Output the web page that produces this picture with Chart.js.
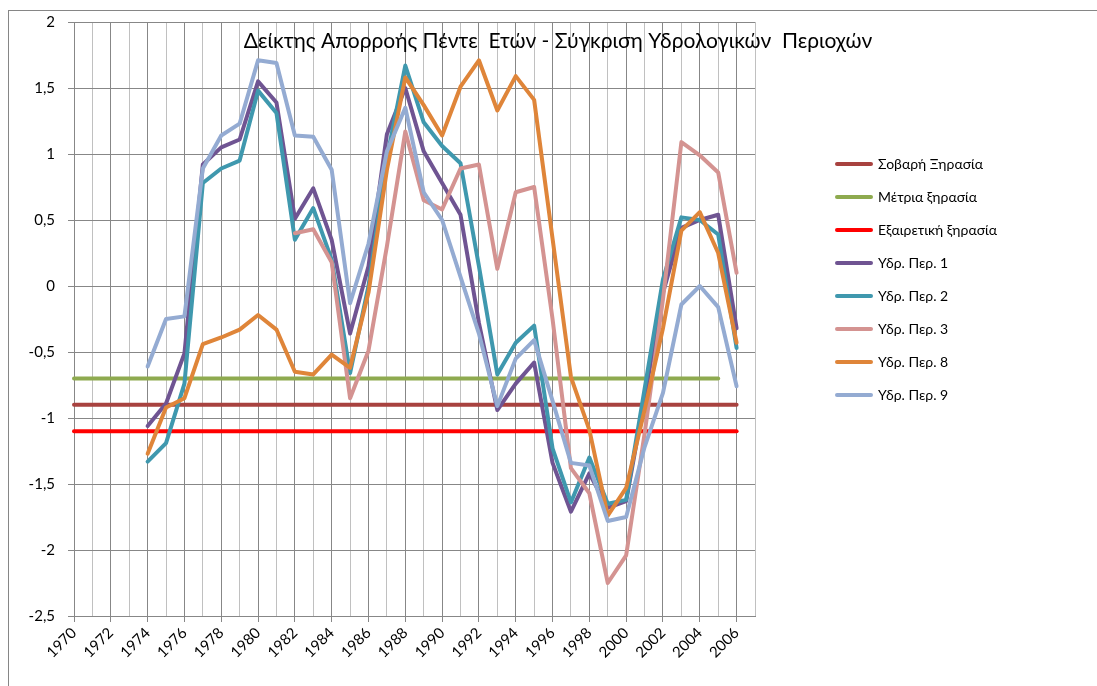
<!DOCTYPE html>
<html>
<head>
<meta charset="utf-8">
<title>Δείκτης Απορροής Πέντε Ετών</title>
<script src="https://cdn.jsdelivr.net/npm/chart.js"></script>
<style>
  html, body { margin: 0; padding: 0; background: #fff; overflow: hidden; }
  #wrap { width: 1097px; height: 686px; }
</style>
</head>
<body>
<div id="wrap"><canvas id="myChart" width="1097" height="686"></canvas></div>
<script>
// categories (x axis runs 1970 .. 2007, labels every 2nd year)
const years = ['1970','1971','1972','1973','1974','1975','1976','1977','1978','1979',
  '1980','1981','1982','1983','1984','1985','1986','1987','1988','1989',
  '1990','1991','1992','1993','1994','1995','1996','1997','1998','1999',
  '2000','2001','2002','2003','2004','2005','2006','2007'];

// drought thresholds
const severeDrought = -0.9;    // Σοβαρή Ξηρασία
const moderateDrought = -0.7;  // Μέτρια ξηρασία
const extremeDrought = -1.1;   // Εξαιρετική ξηρασία

// five-year runoff index per hydrological region, 1974 .. 2006
const region1 = [-1.06, -0.89, -0.51, 0.92, 1.05, 1.11, 1.55, 1.39, 0.51, 0.74, 0.35,
  -0.36, 0.15, 1.15, 1.50, 1.02, 0.78, 0.54, -0.28, -0.94, -0.74, -0.58,
  -1.34, -1.71, -1.42, -1.68, -1.63, -0.85, -0.05, 0.44, 0.50, 0.54, -0.32];
const region2 = [-1.33, -1.19, -0.74, 0.78, 0.89, 0.95, 1.48, 1.31, 0.35, 0.59, 0.20,
  -0.66, 0.00, 0.97, 1.67, 1.24, 1.06, 0.93, 0.15, -0.67, -0.43, -0.30,
  -1.23, -1.64, -1.30, -1.65, -1.62, -0.78, 0.05, 0.52, 0.50, 0.39, -0.47];
const region8 = [-1.27, -0.92, -0.85, -0.44, -0.39, -0.33, -0.22, -0.33, -0.65, -0.67, -0.52,
  -0.62, -0.05, 0.88, 1.58, 1.37, 1.14, 1.51, 1.71, 1.33, 1.59, 1.41,
  0.36, -0.69, -1.09, -1.74, -1.53, -0.94, -0.32, 0.42, 0.56, 0.25, -0.43];
const region9 = [-0.61, -0.25, -0.23, 0.89, 1.14, 1.23, 1.71, 1.69, 1.14, 1.13, 0.88,
  -0.13, 0.32, 1.02, 1.35, 0.71, 0.50, 0.07, -0.36, -0.91, -0.55, -0.41,
  -0.87, -1.34, -1.36, -1.78, -1.75, -1.22, -0.81, -0.14, 0.00, -0.16, -0.76];
// region 3 starts in 1982
const region3 = [0.40, 0.43, 0.18, -0.85, -0.49, 0.30, 1.17, 0.65, 0.58, 0.89, 0.92,
  0.13, 0.71, 0.75, -0.25, -1.38, -1.57, -2.25, -2.04, -1.12, -0.10, 1.09, 0.99, 0.86, 0.10];

const yTicks = ['2', '1,5', '1', '0,5', '0', '-0,5', '-1', '-1,5', '-2', '-2,5'];

function byYear(start, vals) {
  return years.map(y => {
    const i = Number(y) - start;
    return i >= 0 && i < vals.length ? vals[i] : null;
  });
}
function level(v, from, to) {
  return [{x: from, y: v}, {x: to, y: v}];
}

const fontFam = 'Lato, "Open Sans", sans-serif';
const gridDark = '#878787', gridLight = '#c0c0c0';

function line(label, data, color) {
  return {
    label: label,
    data: data,
    borderColor: color,
    backgroundColor: color,
    borderWidth: 4,
    pointRadius: 0,
    pointHoverRadius: 0,
    pointBorderWidth: 4,
    tension: 0,
    fill: false,
    borderJoinStyle: 'round',
    borderCapStyle: 'round'
  };
}

const datasets = [
  line('Σοβαρή Ξηρασία', level(severeDrought, '1970', '2006'), '#a8423f'),
  line('Μέτρια ξηρασία', level(moderateDrought, '1970', '2005'), '#8eaa4f'),
  line('Εξαιρετική ξηρασία', level(extremeDrought, '1970', '2006'), '#ff0000'),
  line('Υδρ. Περ. 1', byYear(1974, region1), '#6f5492'),
  line('Υδρ. Περ. 2', byYear(1974, region2), '#3f98ae'),
  line('Υδρ. Περ. 3', byYear(1982, region3), '#d49391'),
  line('Υδρ. Περ. 8', byYear(1974, region8), '#df8539'),
  line('Υδρ. Περ. 9', byYear(1974, region9), '#94abd2')
];
// later series are painted on top, as in the original
datasets.forEach((d, i) => { d.order = datasets.length - i; });

const chartTitle = 'Δείκτης Απορροής Πέντε  Ετών - Σύγκριση Υδρολογικών  Περιοχών';

const frame = {
  id: 'frame',
  beforeDraw(chart) {
    const ctx = chart.ctx;
    ctx.save();
    ctx.fillStyle = '#fff';
    ctx.fillRect(0, 0, chart.width, chart.height);
    ctx.strokeStyle = '#868686';
    ctx.lineWidth = 1;
    ctx.strokeRect(8.5, 10.5, chart.width + 20, chart.height + 20);
    ctx.restore();
  }
};

const plotTitle = {
  id: 'plotTitle',
  beforeDatasetsDraw(chart) {
    const ctx = chart.ctx;
    ctx.save();
    ctx.font = '21px ' + fontFam;
    ctx.fillStyle = '#000';
    ctx.textAlign = 'center';
    ctx.textBaseline = 'alphabetic';
    ctx.fillText(chartTitle, 558, 48);
    ctx.restore();
  }
};

// keep the legend box a fixed size and put it where the original has it
const legendPlacer = {
  id: 'legendPlacer',
  beforeLayout(chart) {
    const lg = chart.legend;
    if (lg && !lg._fixedFit) {
      const fit = lg.fit;
      lg.fit = function () { fit.call(this); this.width = 342; };
      lg._fixedFit = true;
    }
  },
  afterLayout(chart) {
    const lg = chart.legend;
    const w = lg.width, h = lg.height;
    lg.left = 818; lg.right = 818 + w;
    lg.top = 138; lg.bottom = 138 + h;
  }
};

new Chart(document.getElementById('myChart'), {
  type: 'line',
  data: { labels: years, datasets: datasets },
  options: {
    responsive: false,
    animation: false,
    devicePixelRatio: 1,
    layout: { padding: { top: 22, left: 0, right: 0, bottom: 0 } },
    plugins: {
      tooltip: { enabled: false },
      title: { display: false },
      legend: {
        position: 'right',
        align: 'start',
        labels: {
          usePointStyle: true,
          pointStyle: 'line',
          pointStyleWidth: 34,
          padding: 19,
          color: '#000',
          font: { family: fontFam, size: 14 },
          sort: (a, b) => a.datasetIndex - b.datasetIndex,
          generateLabels: chart => Chart.defaults.plugins.legend.labels.generateLabels(chart)
            .map(it => Object.assign(it, { lineCap: 'round' }))
        }
      }
    },
    scales: {
      x: {
        type: 'category',
        offset: false,
        grid: {
          color: c => c.index % 2 === 0 ? gridDark : gridLight,
          tickColor: c => c.index % 2 === 0 ? gridDark : 'rgba(0,0,0,0)',
          tickLength: 6,
          lineWidth: 1
        },
        border: { color: gridDark },
        ticks: {
          autoSkip: false,
          minRotation: 45,
          maxRotation: 45,
          padding: 2,
          color: '#000',
          font: { family: fontFam, size: 15 },
          callback: (v, i) => i % 2 === 0 ? years[i] : ''
        },
        afterFit: s => { s.height = 70; }
      },
      y: {
        min: -2.5,
        max: 2,
        grid: { color: gridDark, tickLength: 6, lineWidth: 1 },
        border: { color: gridDark },
        ticks: {
          stepSize: 0.5,
          padding: 13,
          color: '#000',
          font: { family: fontFam, size: 15 },
          callback: (v) => yTicks[Math.round((2 - v) / 0.5)]
        },
        afterFit: s => { s.width = 74; }
      }
    }
  },
  plugins: [frame, plotTitle, legendPlacer]
});
</script>
</body>
</html>
